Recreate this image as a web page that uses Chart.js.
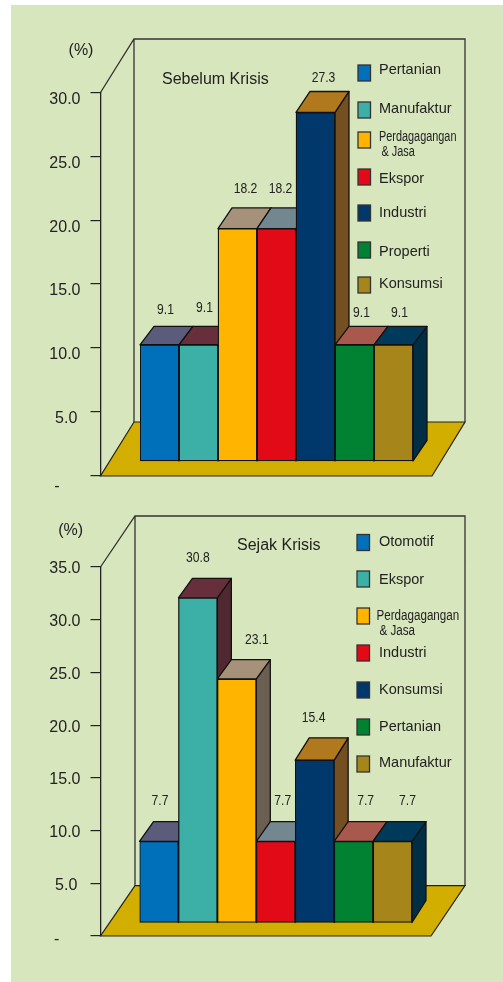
<!DOCTYPE html>
<html><head><meta charset="utf-8">
<style>
html,body{margin:0;padding:0;background:#fff;overflow:hidden}
#panel{position:absolute;left:11px;top:5px;width:492px;height:977px;background:#d8e6bd}
canvas{position:absolute;left:0}
</style>
<script src="https://cdn.jsdelivr.net/npm/chart.js@4"></script>
</head><body><div id="panel"></div>
<canvas id="c1" width="503" height="495" style="top:0"></canvas>
<canvas id="c2" width="503" height="482" style="top:500px"></canvas>
<script>
const categoriesBefore = ['Pertanian','Manufaktur','Perdagagangan\n & Jasa','Ekspor','Industri','Properti','Konsumsi'];
const valuesBefore = [9.1,9.1,18.2,18.2,27.3,9.1,9.1];
const categoriesSince = ['Otomotif','Ekspor','Perdagagangan\n& Jasa','Industri','Konsumsi','Pertanian','Manufaktur'];
const valuesSince = [7.7,30.8,23.1,7.7,15.4,7.7,7.7];
const titleBefore = 'Sebelum Krisis';
const titleSince = 'Sejak Krisis';
const unitLabel = '(%)';
const zeroLabel = '-';

const frontColors = ['#0070bb','#3cb0a6','#ffb500','#e30a18','#00386b','#008233','#a6861b'];
const topColors = ['#5b5b7c','#672f3b','#a6927a','#72878f','#b0791e','#a8584c','#003a5a'];
const sideColors = ['#44445e','#4f2832','#6b5f52','#5a6a70','#744f22','#7e4238','#002f45'];

const FONT = '"Liberation Sans",Arial,sans-serif';
const INK = '#222';

function condensed(c,text,x,y,sx){
  c.save();c.translate(x,y);c.scale(sx,1);c.fillText(text,0,0);c.restore();
}

function makeChart(id, cfg){
  const oy = cfg.originY;
  const G = v => v - oy;
  const scene = {
    id:'scene',
    beforeDatasetsDraw(chart){
      const c = chart.ctx, w = cfg.wall, meta = chart.getDatasetMeta(0);
      c.save();
      c.beginPath();
      c.moveTo(w.axisX,G(w.floorFront));c.lineTo(w.floorRight,G(w.floorFront));
      c.lineTo(w.right,G(w.floorBack));c.lineTo(w.left,G(w.floorBack));c.closePath();
      c.fillStyle='#d1ae00';c.fill();
      c.strokeStyle='#222';c.lineWidth=1.2;c.stroke();
      c.strokeStyle='#333';c.lineWidth=1.3;
      c.beginPath();
      c.moveTo(w.axisX,G(w.axisTop));c.lineTo(w.left,G(w.top));
      c.lineTo(w.right,G(w.top));c.lineTo(w.right,G(w.floorBack));
      c.moveTo(w.left,G(w.top));c.lineTo(w.left,G(w.floorBack));
      c.stroke();
      c.strokeStyle='#111';c.lineWidth=1.3;c.lineJoin='round';
      const dx=cfg.depthX;
      meta.data.forEach((b,i)=>{
        const l=b.x-b.width/2, r=b.x+b.width/2, t=b.y, bt=b.base, dy=cfg.depthY[i];
        c.fillStyle=sideColors[i];
        c.beginPath();c.moveTo(r,t);c.lineTo(r+dx,t-dy);c.lineTo(r+dx,bt-cfg.baseDepth);c.lineTo(r,bt);c.closePath();c.fill();c.stroke();
        c.fillStyle=topColors[i];
        c.beginPath();c.moveTo(l,t);c.lineTo(l+dx,t-dy);c.lineTo(r+dx,t-dy);c.lineTo(r,t);c.closePath();c.fill();c.stroke();
      });
      c.restore();
    },
    afterDraw(chart){
      const c = chart.ctx, meta = chart.getDatasetMeta(0);
      c.save();
      c.fillStyle=INK;c.textBaseline='middle';c.textAlign='center';
      c.font='16px '+FONT;
      c.fillText(unitLabel,cfg.unit[0],G(cfg.unit[1]));
      c.fillText(zeroLabel,cfg.dash[0],G(cfg.dash[1]));
      c.textAlign='left';
      c.fillText(cfg.title,cfg.titlePos[0],G(cfg.titlePos[1]));
      c.textAlign='center';c.font='15px '+FONT;
      meta.data.forEach((b,i)=>{
        const n=cfg.labelNudge[i];
        condensed(c,cfg.values[i].toFixed(1),b.x+n[0],b.y+n[1],0.81);
      });
      c.textAlign='left';
      cfg.categories.forEach((name,i)=>{
        const L=cfg.legend[i];
        c.fillStyle=frontColors[i];c.strokeStyle='#333';c.lineWidth=1.3;
        c.fillRect(cfg.swatchX,G(L[0]),12.5,16);c.strokeRect(cfg.swatchX,G(L[0]),12.5,16);
        c.fillStyle=INK;
        const lines=name.split('\n');
        if(lines.length>1){
          c.font='14px '+FONT;
          condensed(c,lines[0],L[2],G(L[1]),cfg.legendSqueeze);
          condensed(c,lines[1].trim(),L[3],G(L[1]+14.7),cfg.legendSqueeze);
        }else{
          c.font='14.5px '+FONT;
          c.fillText(name,L[2],G(L[1]));
        }
      });
      c.restore();
    }
  };
  return new Chart(document.getElementById(id),{
    type:'bar',
    data:{labels:cfg.categories,datasets:[{
      data:cfg.values,yAxisID:'yBars',
      backgroundColor:frontColors,borderColor:'#111',borderWidth:1.3,borderSkipped:false,
      categoryPercentage:1,barPercentage:1
    }]},
    plugins:[scene],
    options:{
      responsive:false,animation:false,devicePixelRatio:1,
      layout:{padding:{left:0,top:G(cfg.wall.axisTop),right:503-cfg.barsRight,bottom:cfg.canvasH-G(cfg.wall.floorFront)}},
      plugins:{legend:{display:false},tooltip:{enabled:false},title:{display:false}},
      scales:{
        x:{display:false,offset:true,grid:{display:false}},
        y:{position:'left',weight:1,min:0,max:cfg.max,
          afterFit(s){s.width=cfg.wall.axisX;},
          grid:{drawOnChartArea:false,drawTicks:true,tickLength:10,color:'#222',lineWidth:1.2},
          border:{display:true,color:'#222',width:1.3},
          ticks:{stepSize:5,padding:10,labelOffset:cfg.tickDrop,color:INK,font:{family:FONT,size:16},
            callback:v=>v===0?'':(v===5?'5.0\u2009':v.toFixed(1))}},
        yBars:{position:'left',weight:0,display:true,
          min:-cfg.lift,max:cfg.max-cfg.lift,
          afterFit(s){s.width=cfg.gap;},
          grid:{display:false},border:{display:false},ticks:{display:false}}
      }
    }
  });
}

makeChart('c1',{
  originY:0,canvasH:495,max:30,lift:14.5/12.78,gap:39.5,barsRight:413,depthX:14,tickDrop:7,
  depthY:[18.3,18.3,20.7,20.7,21,18.3,18.3],baseDepth:20.5,legendSqueeze:0.777,
  categories:categoriesBefore,values:valuesBefore,title:titleBefore,
  unit:[81,50.7],titlePos:[162,80],dash:[57,486.5],
  wall:{axisX:100.5,axisTop:92.5,top:39,left:134,right:465,floorBack:422,floorFront:476,floorRight:432},
  labelNudge:[[6,-35],[6,-37],[8,-40],[4,-40],[8,-35],[7,-32],[6,-32]],
  swatchX:358,
  legend:[[65,70,379,0],[102,109,379,0],[132,137,379,381.5],[169,179,379,0],[205,212.7,379,0],[242,252,379,0],[277,284,379,0]]
});
makeChart('c2',{
  originY:500,canvasH:482,max:35,lift:13.5/10.54,gap:39,barsRight:412,depthX:14,tickDrop:2,
  depthY:[19.7,19.4,19.3,19.7,22.3,19.7,19.7],baseDepth:22,legendSqueeze:0.83,
  categories:categoriesSince,values:valuesSince,title:titleSince,
  unit:[70.7,530.7],titlePos:[237,546],dash:[56.7,940],
  wall:{axisX:100.5,axisTop:567,top:516,left:135,right:465,floorBack:885.7,floorFront:936,floorRight:431},
  labelNudge:[[1,-40],[0,-40],[20,-39],[7,-40],[-1,-42],[12,-40],[15,-40]],
  swatchX:357,
  legend:[[534.5,542,379,0],[571,579.5,379,0],[608,616,376.5,379.5],[645,653,379,0],[682,690,379,0],[719,727,379,0],[756,763,379,0]]
});
</script></body></html>
